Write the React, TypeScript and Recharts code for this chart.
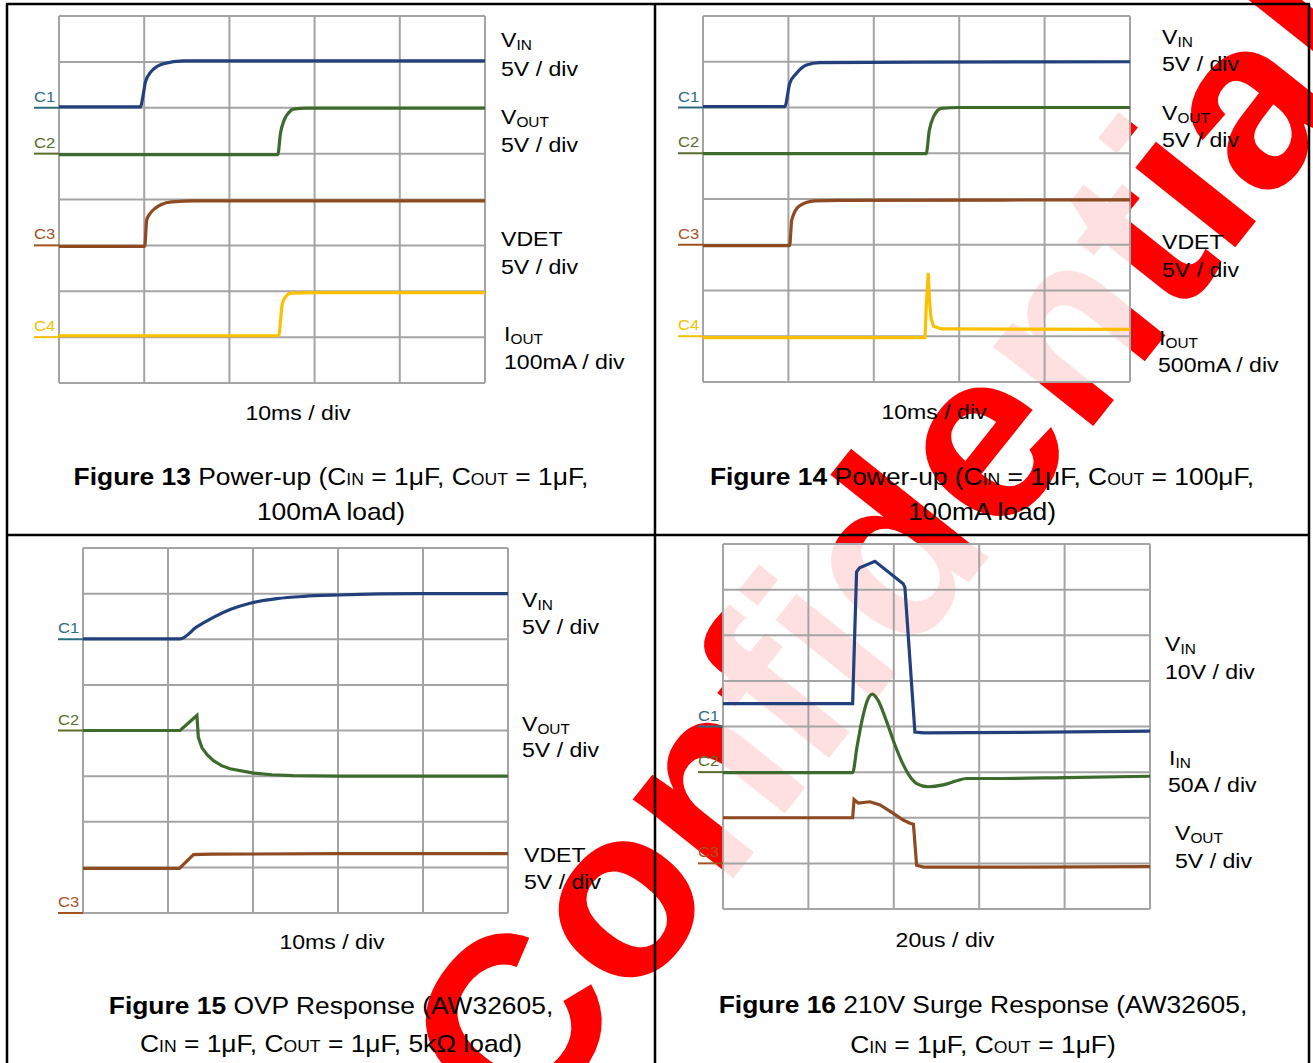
import { LineChart, Line, XAxis, YAxis, CartesianGrid } from 'recharts';

const FONT = '"Liberation Sans", Arial, sans-serif';

// scope screen: 5 time divisions x 8 level divisions
const timeTicks = [0, 1, 2, 3, 4, 5];
const levelTicks = [0, 1, 2, 3, 4, 5, 6, 7, 8];

// all trace points are [time div, level div]
// Figure 13 — power-up, 1uF out
const f13Vin = [[0, 6.02], [0.955, 6.02], [0.99, 6.3], [1.014, 6.56], [1.073, 6.77], [1.15, 6.9], [1.225, 6.96], [1.46, 7.02], [3, 7.02], [5, 7.02]];
const f13Vout = [[0, 4.98], [2.568, 4.98], [2.6, 5.45], [2.64, 5.72], [2.7, 5.9], [2.75, 5.97], [2.9, 5.99], [5, 5.99]];
const f13Vdet = [[0, 2.98], [1.006, 2.98], [1.03, 3.56], [1.08, 3.72], [1.13, 3.81], [1.2, 3.89], [1.325, 3.95], [1.6, 3.97], [5, 3.97]];
const f13Iout = [[0, 1.03], [2.578, 1.03], [2.62, 1.72], [2.66, 1.88], [2.725, 1.96], [3, 1.97], [5, 1.97]];
const f13Levels = [6, 5, 3, 1];
const f13Channels = ['C1', 'C2', 'C3', 'C4'];

// Figure 14 — power-up, 100uF out
const f14Vin = [[0, 6.02], [0.958, 6.02], [1.016, 6.53], [1.095, 6.75], [1.212, 6.93], [1.368, 6.98], [2.5, 6.99], [5, 7.0]];
const f14Vout = [[0, 4.99], [2.613, 4.99], [2.65, 5.5], [2.7, 5.8], [2.75, 5.94], [2.786, 5.98], [3, 6.0], [5, 6.0]];
const f14Vdet = [[0, 2.98], [1.014, 2.98], [1.04, 3.55], [1.13, 3.85], [1.31, 3.96], [1.6, 3.97], [5, 3.98]];
const f14Iout = [[0, 0.97], [2.6, 0.97], [2.615, 1.7], [2.638, 2.38], [2.652, 1.79], [2.67, 1.4], [2.7, 1.22], [2.795, 1.16], [5, 1.15]];
const f14Levels = [6, 5, 3, 1];
const f14Channels = ['C1', 'C2', 'C3', 'C4'];

// Figure 15 — OVP response
const f15Vin = [[0, 6.01], [1.142, 6.01], [1.338, 6.27], [1.534, 6.48], [1.73, 6.65], [1.965, 6.79], [2.28, 6.89], [2.6, 6.94], [3.01, 6.97], [3.94, 7.0], [5, 7.0]];
const f15Vout = [[0, 4.0], [1.142, 4.0], [1.34, 4.33], [1.357, 3.85], [1.4, 3.62], [1.46, 3.47], [1.534, 3.34], [1.63, 3.23], [1.73, 3.16], [1.99, 3.07], [2.22, 3.03], [2.47, 3.01], [3, 3.0], [5, 3.0]];
const f15Vdet = [[0, 0.98], [1.134, 0.98], [1.3, 1.28], [1.5, 1.29], [3, 1.3], [5, 1.3]];
const f15Levels = [6, 4, 0];
const f15Channels = ['C1', 'C2', 'C3'];

// Figure 16 — 210V surge
const f16Vin = [[0, 4.5], [1.518, 4.5], [1.564, 7.39], [1.6, 7.48], [1.779, 7.62], [2.11, 7.13], [2.13, 7.05], [2.247, 3.88], [2.35, 3.86], [3.5, 3.87], [5, 3.9]];
const f16Iin = [[0, 2.99], [1.518, 2.99], [1.568, 3.54], [1.627, 4.13], [1.692, 4.58], [1.75, 4.71], [1.814, 4.58], [1.912, 4.13], [2.01, 3.61], [2.109, 3.17], [2.206, 2.86], [2.267, 2.75], [2.402, 2.68], [2.578, 2.72], [2.735, 2.81], [2.852, 2.86], [3.124, 2.86], [4, 2.88], [5, 2.91]];
const f16Vout = [[0, 2.0], [1.518, 2.0], [1.535, 2.4], [1.585, 2.32], [1.72, 2.35], [1.84, 2.28], [1.99, 2.1], [2.11, 1.95], [2.19, 1.88], [2.23, 1.86], [2.267, 0.96], [2.35, 0.92], [3.5, 0.92], [5, 0.93]];
const f16Levels = [4, 3, 1];
const f16Channels = ['C1', 'C2', 'C3'];

const TRACE: Record<string, string> = { C1: '#21407c', C2: '#3d6b2d', C3: '#8e4a20', C4: '#fdc000' };
const MARK: Record<string, string> = { C1: '#2b6c83', C2: '#5a6b2c', C3: '#a3531f', C4: '#f3c000' };

const AXW = 30; // channel-marker gutter left of the screen

const pts = (a: number[][]) => a.map(([t, v]) => ({ t, v }));

type Trace = { ch: string; data: number[][]; curve?: 'linear' | 'monotone' };

function ChTick(props: any) {
  const { y, payload, levels, channels } = props;
  const name = channels[levels.indexOf(payload.value)];
  const c = MARK[name];
  const x = AXW; // screen left edge inside the chart
  return (
    <g>
      <line x1={x - 25} x2={x} y1={y} y2={y} stroke={c} strokeWidth={2} />
      <text
        transform={`translate(${x - 25},${y - 6}) scale(1.1,1)`}
        fontSize={15}
        fontFamily={FONT}
        fill={c}
      >
        {name}
      </text>
    </g>
  );
}

function Scope({ left, top, w, h, traces, levels, channels }: {
  left: number; top: number; w: number; h: number;
  traces: Trace[]; levels: number[]; channels: string[];
}) {
  return (
    <div style={{ position: 'absolute', left: left - AXW, top: top - 5 }}>
      <LineChart width={w + AXW + 5} height={h + 10} margin={{ top: 5, right: 5, bottom: 5, left: 0 }}>
        <XAxis type="number" dataKey="t" domain={[0, 5]} ticks={timeTicks} hide allowDataOverflow />
        <YAxis type="number" domain={[0, 8]} ticks={levelTicks} hide allowDataOverflow />
        <YAxis
          yAxisId="ch"
          type="number"
          domain={[0, 8]}
          allowDataOverflow
          ticks={levels}
          interval={0}
          width={AXW}
          axisLine={false}
          tickLine={false}
          tickSize={0}
          tickMargin={0}
          tick={(p: any) => <ChTick {...p} levels={levels} channels={channels} />}
        />
        <CartesianGrid stroke="#a4a4a4" strokeWidth={2} fill="#ffffff" fillOpacity={0.88} />
        {traces.map((tr) => (
          <Line
            key={tr.ch}
            data={pts(tr.data)}
            dataKey="v"
            type={tr.curve ?? 'monotone'}
            stroke={TRACE[tr.ch]}
            strokeWidth={3.2}
            dot={false}
            activeDot={false}
            isAnimationActive={false}
          />
        ))}
      </LineChart>
    </div>
  );
}

function Txt({ x, y, size = 21, anchor = 'start', children }: any) {
  return (
    <text
      transform={`translate(${x},${y}) scale(1.1,1)`}
      fontSize={size}
      textAnchor={anchor}
      fontFamily={FONT}
      fill="#000"
    >
      {children}
    </text>
  );
}

const Sub = ({ children }: any) => <tspan fontSize={14} dy={3}>{children}</tspan>;
const Sc = ({ children }: any) => <tspan fontSize={16}>{children}</tspan>;
const B = ({ children }: any) => <tspan fontWeight="bold">{children}</tspan>;

export default function App() {
  return (
    <div style={{ position: 'absolute', left: 0, top: 0, width: 1313, height: 1063, background: '#fff', overflow: 'hidden' }}>
      <svg width={1313} height={1063} style={{ position: 'absolute', left: 0, top: 0 }}>
        <text
          transform="translate(522,1144) rotate(-51.5)"
          fontSize={242}
          fontWeight="bold"
          fontFamily={FONT}
          fill="#ff0000"
        >
          Confidential
        </text>
      </svg>

      <Scope left={58.5} top={16} w={426} h={367} levels={f13Levels} channels={f13Channels}
        traces={[{ ch: 'C1', data: f13Vin }, { ch: 'C2', data: f13Vout }, { ch: 'C3', data: f13Vdet }, { ch: 'C4', data: f13Iout }]} />
      <Scope left={703} top={16} w={427} h={366} levels={f14Levels} channels={f14Channels}
        traces={[{ ch: 'C1', data: f14Vin }, { ch: 'C2', data: f14Vout }, { ch: 'C3', data: f14Vdet }, { ch: 'C4', data: f14Iout, curve: 'linear' }]} />
      <Scope left={83} top={548} w={425} h={365} levels={f15Levels} channels={f15Channels}
        traces={[{ ch: 'C1', data: f15Vin }, { ch: 'C2', data: f15Vout, curve: 'linear' }, { ch: 'C3', data: f15Vdet, curve: 'linear' }]} />
      <Scope left={723} top={544} w={427} h={365} levels={f16Levels} channels={f16Channels}
        traces={[{ ch: 'C1', data: f16Vin, curve: 'linear' }, { ch: 'C2', data: f16Iin }, { ch: 'C3', data: f16Vout, curve: 'linear' }]} />

      <svg width={1313} height={1063} style={{ position: 'absolute', left: 0, top: 0 }}>
        {/* table rules */}
        <g stroke="#000" strokeWidth={2.5}>
          <line x1={6} x2={1310} y1={4} y2={4} />
          <line x1={7} x2={7} y1={4} y2={1063} />
          <line x1={1309} x2={1309} y1={4} y2={1063} />
          <line x1={655} x2={655} y1={4} y2={1063} />
          <line x1={6} x2={1310} y1={535} y2={535} />
        </g>

        {/* Figure 13 */}
        <Txt x={501} y={47}>V<Sub>IN</Sub></Txt>
        <Txt x={501} y={76}>5V / div</Txt>
        <Txt x={501} y={124}>V<Sub>OUT</Sub></Txt>
        <Txt x={501} y={152}>5V / div</Txt>
        <Txt x={501} y={246}>VDET</Txt>
        <Txt x={501} y={274}>5V / div</Txt>
        <Txt x={504} y={341}>I<Sub>OUT</Sub></Txt>
        <Txt x={504} y={369}>100mA / div</Txt>
        <Txt x={298} y={420} anchor="middle">10ms / div</Txt>
        <Txt x={331} y={485} size={24} anchor="middle"><B>Figure 13</B> Power-up (C<Sc>IN</Sc> = 1μF, C<Sc>OUT</Sc> = 1μF,</Txt>
        <Txt x={331} y={520} size={24} anchor="middle">100mA load)</Txt>

        {/* Figure 14 */}
        <Txt x={1162} y={44}>V<Sub>IN</Sub></Txt>
        <Txt x={1162} y={71}>5V / div</Txt>
        <Txt x={1162} y={120}>V<Sub>OUT</Sub></Txt>
        <Txt x={1162} y={147}>5V / div</Txt>
        <Txt x={1162} y={249}>VDET</Txt>
        <Txt x={1162} y={277}>5V / div</Txt>
        <Txt x={1159} y={345}>I<Sub>OUT</Sub></Txt>
        <Txt x={1158} y={372}>500mA / div</Txt>
        <Txt x={934} y={419} anchor="middle">10ms / div</Txt>
        <Txt x={982} y={485} size={24} anchor="middle"><B>Figure 14</B> Power-up (C<Sc>IN</Sc> = 1μF, C<Sc>OUT</Sc> = 100μF,</Txt>
        <Txt x={982} y={520} size={24} anchor="middle">100mA load)</Txt>

        {/* Figure 15 */}
        <Txt x={522} y={607}>V<Sub>IN</Sub></Txt>
        <Txt x={522} y={634}>5V / div</Txt>
        <Txt x={522} y={731}>V<Sub>OUT</Sub></Txt>
        <Txt x={522} y={757}>5V / div</Txt>
        <Txt x={524} y={862}>VDET</Txt>
        <Txt x={524} y={889}>5V / div</Txt>
        <Txt x={332} y={949} anchor="middle">10ms / div</Txt>
        <Txt x={331} y={1014} size={24} anchor="middle"><B>Figure 15</B> OVP Response (AW32605,</Txt>
        <Txt x={331} y={1052} size={24} anchor="middle">C<Sc>IN</Sc> = 1μF, C<Sc>OUT</Sc> = 1μF, 5kΩ load)</Txt>

        {/* Figure 16 */}
        <Txt x={1165} y={651}>V<Sub>IN</Sub></Txt>
        <Txt x={1165} y={679}>10V / div</Txt>
        <Txt x={1169} y={765}>I<Sub>IN</Sub></Txt>
        <Txt x={1168} y={792}>50A / div</Txt>
        <Txt x={1175} y={840}>V<Sub>OUT</Sub></Txt>
        <Txt x={1175} y={868}>5V / div</Txt>
        <Txt x={945} y={947} anchor="middle">20us / div</Txt>
        <Txt x={983} y={1013} size={24} anchor="middle"><B>Figure 16</B> 210V Surge Response (AW32605,</Txt>
        <Txt x={983} y={1053} size={24} anchor="middle">C<Sc>IN</Sc> = 1μF, C<Sc>OUT</Sc> = 1μF)</Txt>
      </svg>
    </div>
  );
}
